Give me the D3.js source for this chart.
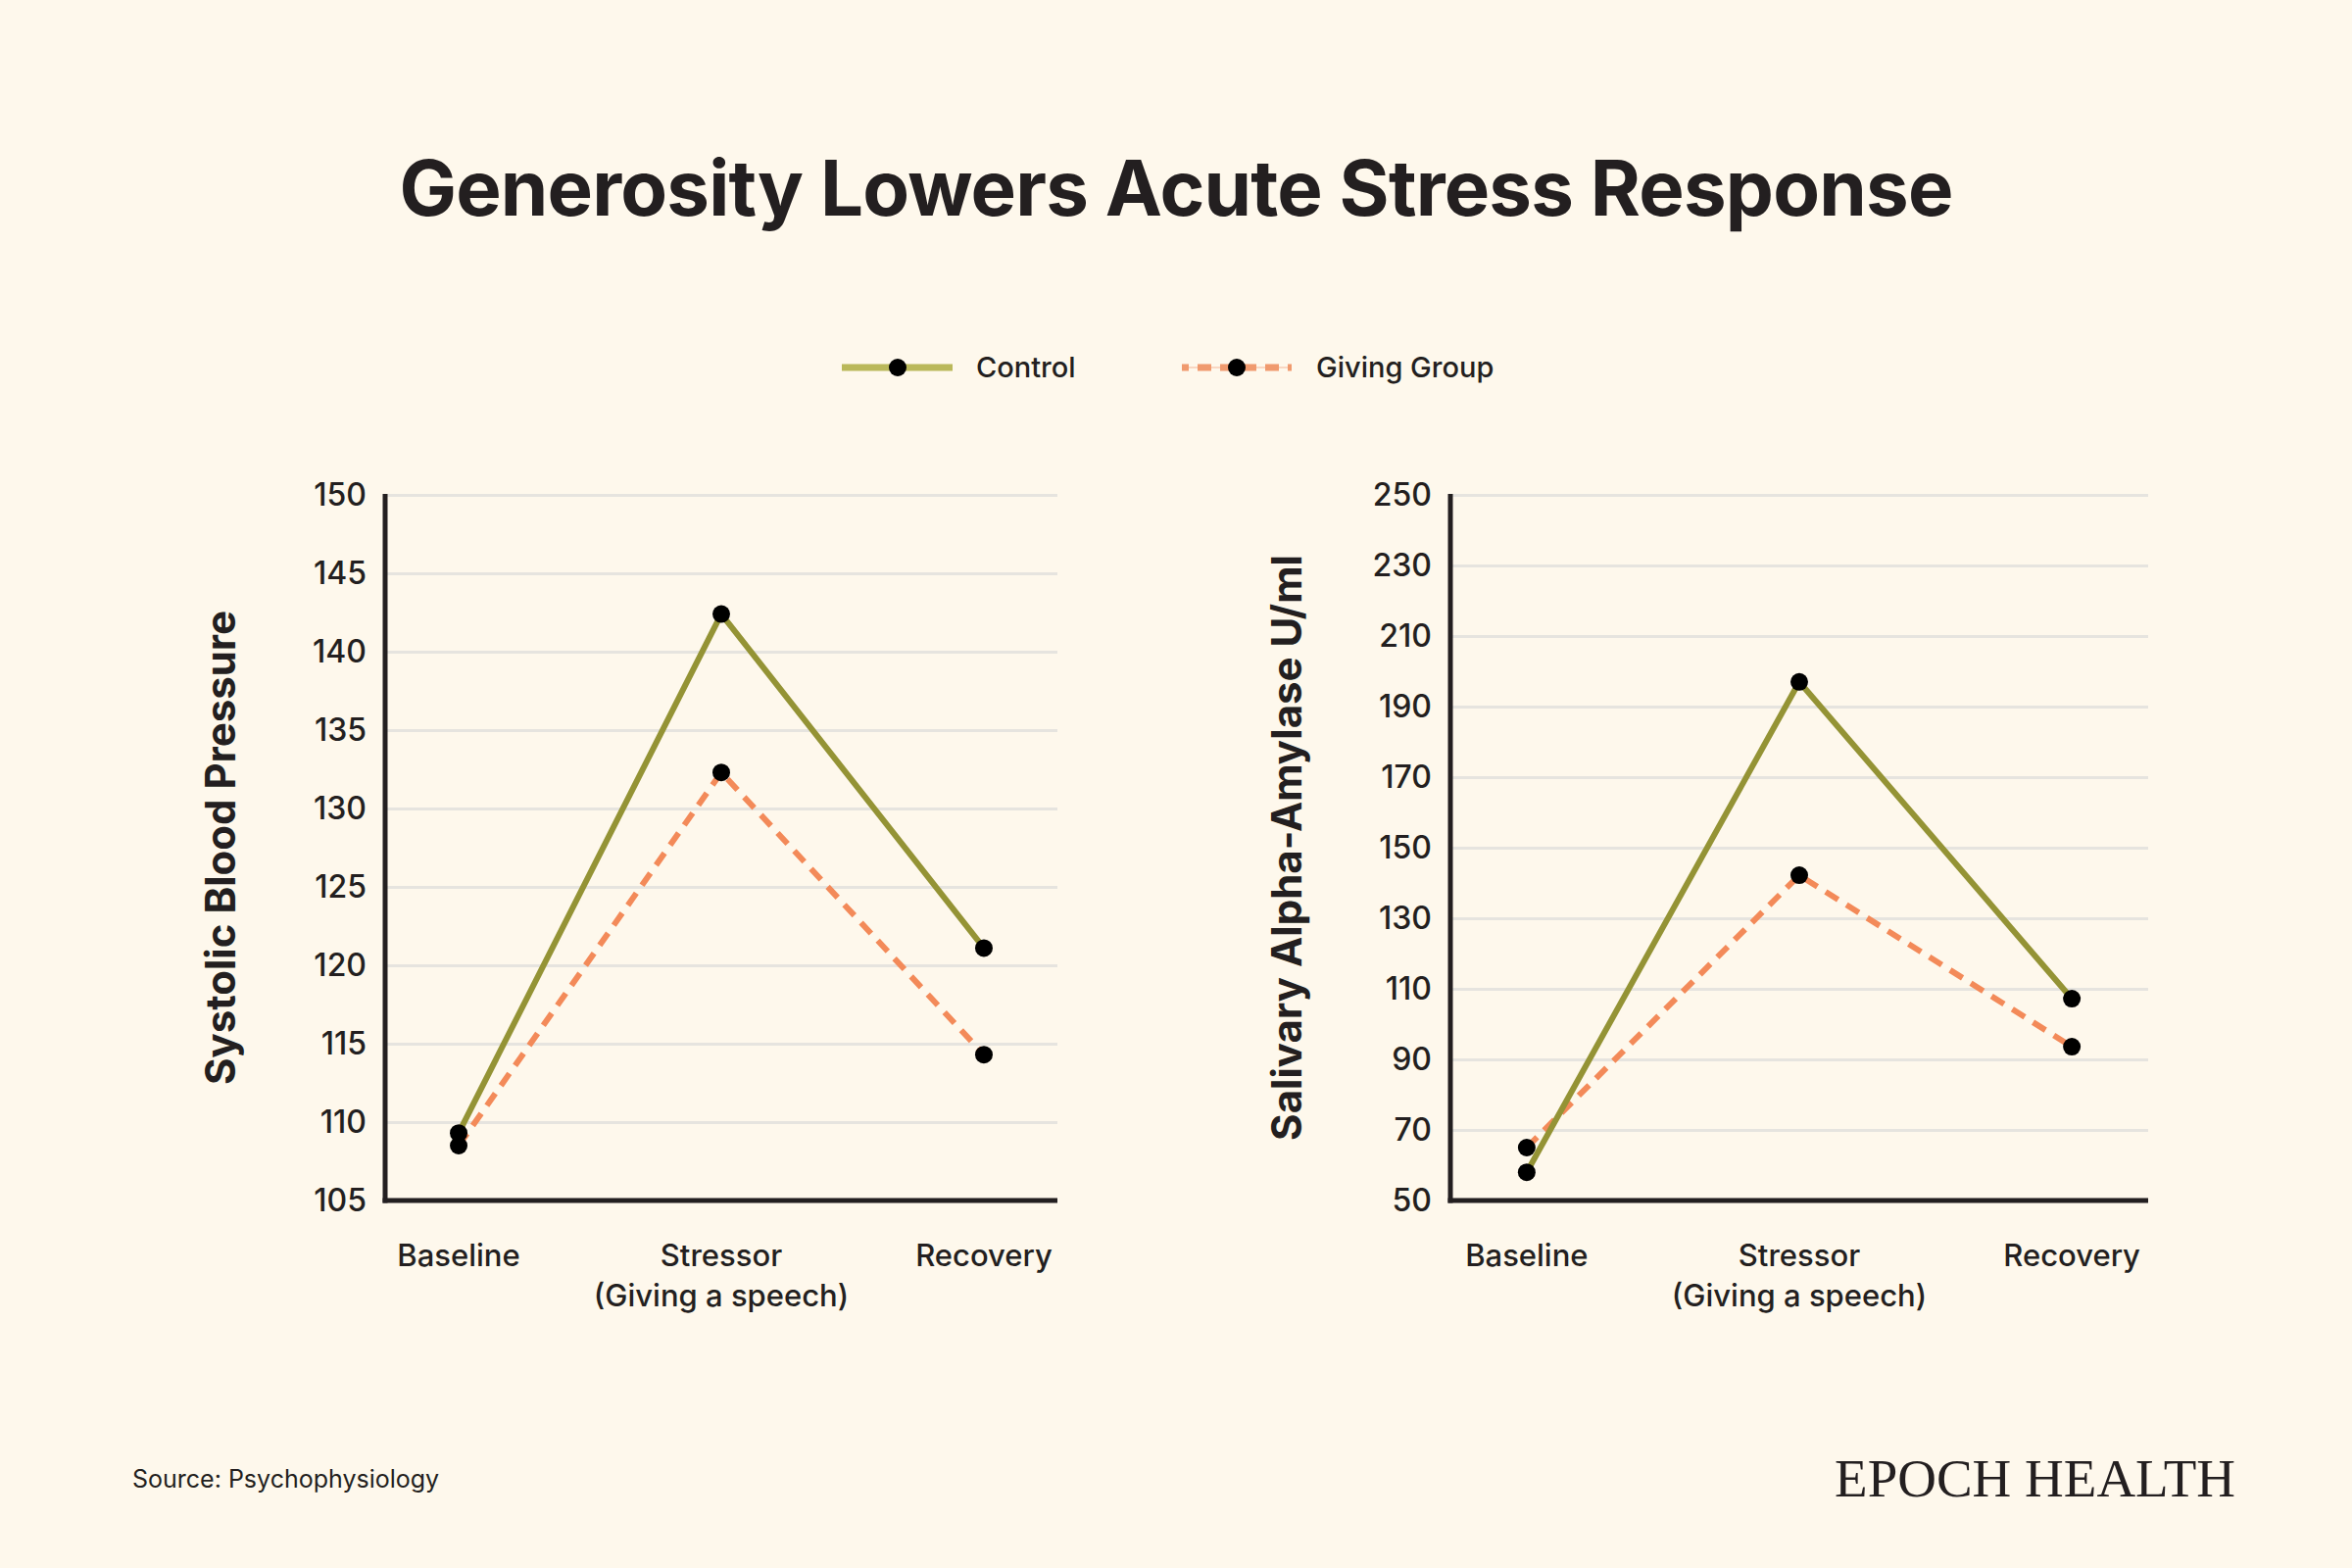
<!DOCTYPE html>
<html>
<head>
<meta charset="utf-8">
<script src="https://cdn.jsdelivr.net/npm/d3@7/dist/d3.min.js"></script>
<style>
  html, body { margin: 0; padding: 0; background: #FEF8EC; }
  svg { display: block; }
  text { font-family: Inter, Roboto, "Noto Sans", sans-serif; fill: #231F20; }
</style>
</head>
<body>
<script>
// ---- data ----
const categories = ["Baseline", "Stressor", "Recovery"];
const categorySubLabels = ["", "(Giving a speech)", ""];
const seriesNames = ["Control", "Giving Group"];
const bpControl = [109.3, 142.4, 121.1];
const bpGiving = [108.5, 132.3, 114.3];
const amyControl = [58, 197, 107.2];
const amyGiving = [65, 142.2, 93.6];
const bpTicks = [105, 110, 115, 120, 125, 130, 135, 140, 145, 150];
const amyTicks = [50, 70, 90, 110, 130, 150, 170, 190, 210, 230, 250];
const titleText = "Generosity Lowers Acute Stress Response";
const bpTitle = "Systolic Blood Pressure";
const amyTitle = "Salivary Alpha-Amylase U/ml";
const sourceText = "Source: Psychophysiology";
const brandText = "EPOCH HEALTH";

// ---- styles ----
const W = 2400, H = 1600;
const colControl = "#949335", colGiving = "#F38A59";
const legControl = "#BAB85A", legGiving = "#F09A6E";
const ink = "#231F20";

const svg = d3.select("body").append("svg").attr("width", W).attr("height", H);
svg.append("rect").attr("width", W).attr("height", H).attr("fill", "#FEF8EC");

// title
svg.append("text").attr("x", 1200).attr("y", 220).attr("text-anchor", "middle")
  .style("font-size", "78px").style("font-weight", 700).style("letter-spacing", "-0.8px")
  .text(titleText);

// legend
const legend = svg.append("g");
const legY = 375;
// control
legend.append("line").attr("x1", 859).attr("x2", 972).attr("y1", legY).attr("y2", legY)
  .attr("stroke", legControl).attr("stroke-width", 7);
legend.append("circle").attr("cx", 916).attr("cy", legY).attr("r", 9).attr("fill", "#000");
legend.append("text").attr("x", 996).attr("y", legY + 10).style("font-size", "29px").style("font-weight", 500).text(seriesNames[0]);
// giving
legend.append("line").attr("x1", 1206).attr("x2", 1318).attr("y1", legY).attr("y2", legY)
  .attr("stroke", "#F7CDB5").attr("stroke-width", 1.5);
legend.append("line").attr("x1", 1206).attr("x2", 1318).attr("y1", legY).attr("y2", legY)
  .attr("stroke", legGiving).attr("stroke-width", 7).attr("stroke-dasharray", "14 9").attr("stroke-dashoffset", 7);
legend.append("circle").attr("cx", 1262).attr("cy", legY).attr("r", 9).attr("fill", "#000");
legend.append("text").attr("x", 1343).attr("y", legY + 10).style("font-size", "29px").style("font-weight", 500).text(seriesNames[1]);

function panel(opts) {
  const { x0, x1, y0, y1, domain, ticks, control, giving, title, titleX } = opts;
  const g = svg.append("g");
  const x = d3.scalePoint().domain(categories).range([x0, x1]).padding(0.28);
  const y = d3.scaleLinear().domain(domain).range([y1, y0]);

  // gridlines
  const grid = g.append("g").attr("transform", `translate(${x0},0)`)
    .call(d3.axisLeft(y).tickValues(ticks).tickSize(-(x1 - x0)).tickFormat(""));
  grid.select(".domain").remove();
  grid.selectAll(".tick line").attr("stroke", "#E6E4DF").attr("stroke-width", 3);

  // tick labels
  const ax = g.append("g").attr("transform", `translate(${x0},0)`)
    .call(d3.axisLeft(y).tickValues(ticks).tickSize(0).tickPadding(19));
  ax.select(".domain").remove();
  ax.selectAll(".tick text").style("font-size", "32px").style("font-weight", 500)
    .style("font-family", "Inter, Roboto, sans-serif").attr("fill", ink);

  // axis lines
  g.append("line").attr("x1", x0).attr("x2", x0).attr("y1", y0 - 1).attr("y2", y1 + 2.5)
    .attr("stroke", ink).attr("stroke-width", 5);
  g.append("line").attr("x1", x0 - 2.5).attr("x2", x1).attr("y1", y1).attr("y2", y1)
    .attr("stroke", ink).attr("stroke-width", 5);

  // x labels
  const xl = g.append("g");
  categories.forEach((c, i) => {
    xl.append("text").attr("x", x(c)).attr("y", 1292).attr("text-anchor", "middle")
      .style("font-size", "31px").style("font-weight", 500).text(c);
    if (categorySubLabels[i]) {
      xl.append("text").attr("x", x(c)).attr("y", 1333).attr("text-anchor", "middle")
        .style("font-size", "31px").style("font-weight", 500).text(categorySubLabels[i]);
    }
  });

  // y title
  g.append("text").attr("transform", `translate(${titleX},${(y0 + y1) / 2 + 0}) rotate(-90)`)
    .attr("text-anchor", "middle").style("font-size", "42px").style("font-weight", 700)
    .text(title);

  const line = d3.line().x((d, i) => x(categories[i])).y(d => y(d));
  g.append("path").datum(giving).attr("d", line).attr("fill", "none")
    .attr("stroke", colGiving).attr("stroke-width", 6).attr("stroke-dasharray", "15 10");
  g.append("path").datum(control).attr("d", line).attr("fill", "none")
    .attr("stroke", colControl).attr("stroke-width", 6);

  [giving, control].forEach(s => {
    g.selectAll(null).data(s).enter().append("circle")
      .attr("cx", (d, i) => x(categories[i])).attr("cy", d => y(d)).attr("r", 9).attr("fill", "#000");
  });
}

panel({ x0: 393, x1: 1079, y0: 505, y1: 1225, domain: [105, 150], ticks: bpTicks,
  control: bpControl, giving: bpGiving, title: bpTitle, titleX: 240 });
panel({ x0: 1480, x1: 2192, y0: 505, y1: 1225, domain: [50, 250], ticks: amyTicks,
  control: amyControl, giving: amyGiving, title: amyTitle, titleX: 1328 });

// source
svg.append("text").attr("x", 135).attr("y", 1518).style("font-size", "25px").style("font-weight", 400)
  .attr("fill", "#2B2B2B").text(sourceText);

// brand
svg.append("text").attr("x", 2281).attr("y", 1527).attr("text-anchor", "end")
  .style("font-family", "'Liberation Serif', 'DejaVu Serif', serif").style("font-size", "55px")
  .attr("fill", "#4D4D4D").text(brandText);
</script>
</body>
</html>
